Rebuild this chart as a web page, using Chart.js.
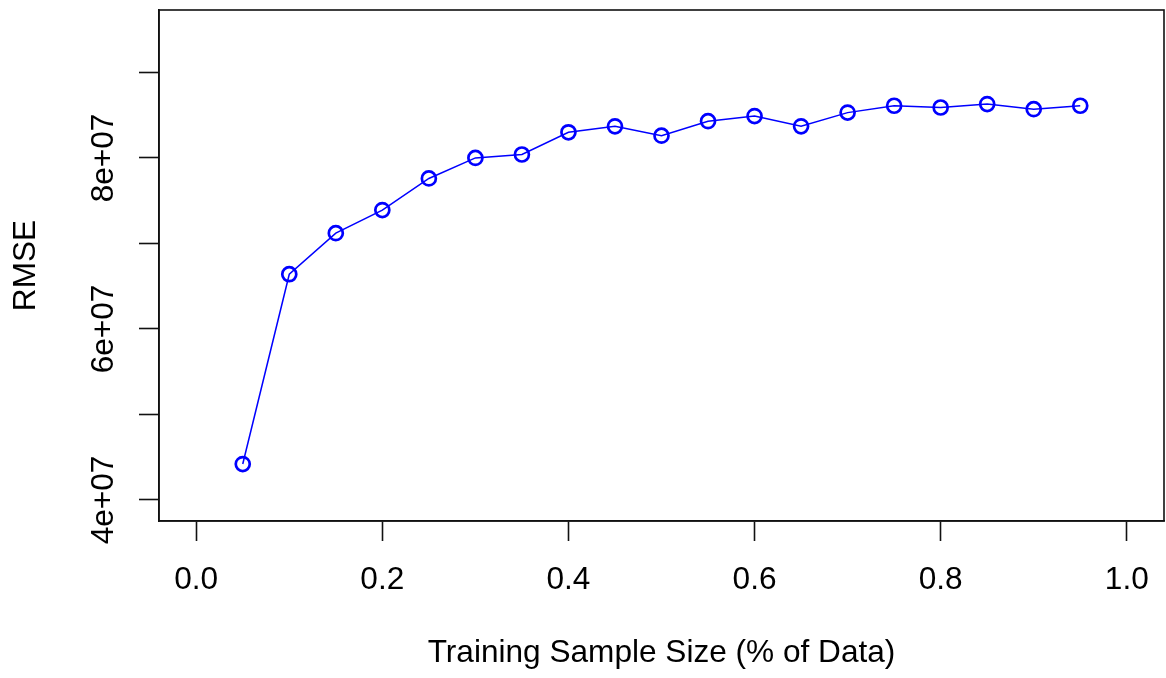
<!DOCTYPE html>
<html>
<head>
<meta charset="utf-8">
<script src="https://cdn.jsdelivr.net/npm/chart.js@4.4.0/dist/chart.umd.min.js"></script>
<style>
  html, body { margin: 0; padding: 0; background: #ffffff; }
  #chart { display: block; }
</style>
</head>
<body>
<canvas id="chart" width="1166" height="678"></canvas>
<script>
// ====== Data ======
const sampleSizes = [0.05, 0.10, 0.15, 0.20, 0.25, 0.30, 0.35, 0.40, 0.45, 0.50,
                     0.55, 0.60, 0.65, 0.70, 0.75, 0.80, 0.85, 0.90, 0.95];
const rmseValues = [4.42e7, 6.64e7, 7.12e7, 7.39e7, 7.76e7, 8.00e7, 8.04e7, 8.30e7, 8.37e7, 8.26e7,
                    8.43e7, 8.49e7, 8.37e7, 8.53e7, 8.61e7, 8.59e7, 8.63e7, 8.57e7, 8.61e7];
const xTicks = [0, 0.2, 0.4, 0.6, 0.8, 1.0];
const xTickLabels = ['0.0', '0.2', '0.4', '0.6', '0.8', '1.0'];
const yTicks = [4e7, 5e7, 6e7, 7e7, 8e7, 9e7];
const yTickLabels = ['4e+07', '', '6e+07', '', '8e+07', ''];

const FONT = '"Liberation Sans", Arial, Helvetica, sans-serif';
const FONT_SIZE = 31.6;

// Box around the plot region, like R's box()
const boxPlugin = {
  id: 'rBox',
  afterDraw(chart) {
    const { ctx, chartArea } = chart;
    ctx.save();
    ctx.strokeStyle = '#111';
    ctx.lineWidth = 1.6;
    ctx.strokeRect(chartArea.left, chartArea.top,
                   chartArea.right - chartArea.left, chartArea.bottom - chartArea.top);
    ctx.restore();
  }
};

// Rotated y tick labels (R default las = 0)
const yLabelPlugin = {
  id: 'rYLabels',
  afterDraw(chart) {
    const { ctx } = chart;
    const yScale = chart.scales.y;
    ctx.save();
    ctx.font = FONT_SIZE + 'px ' + FONT;
    ctx.fillStyle = '#000';
    ctx.textAlign = 'center';
    ctx.textBaseline = 'alphabetic';
    yTicks.forEach((v, i) => {
      if (!yTickLabels[i]) return;
      const py = yScale.getPixelForValue(v);
      ctx.save();
      ctx.translate(113, py);
      ctx.rotate(-Math.PI / 2);
      ctx.fillText(yTickLabels[i], 0, 0);
      ctx.restore();
    });
    ctx.restore();
  }
};

const points = sampleSizes.map((x, i) => ({ x: x, y: rmseValues[i] }));

const ctx = document.getElementById('chart').getContext('2d');
new Chart(ctx, {
  type: 'line',
  data: {
    datasets: [{
      data: points,
      borderColor: '#0000ff',
      borderWidth: 1.5,
      pointStyle: 'circle',
      pointRadius: 7,
      pointBorderWidth: 2.7,
      pointBorderColor: '#0000ff',
      pointBackgroundColor: 'rgba(0,0,0,0)',
      tension: 0,
      fill: false
    }]
  },
  options: {
    responsive: false,
    animation: false,
    layout: { autoPadding: false, padding: { top: 10, right: 2, left: 0, bottom: 0 } },
    plugins: {
      legend: { display: false },
      tooltip: { enabled: false }
    },
    scales: {
      x: {
        type: 'linear',
        min: -0.04,
        max: 1.04,
        afterFit(scale) {
          scale.height = 157;
          scale.paddingLeft = 0;
          scale.paddingRight = 0;
        },
        afterBuildTicks(scale) { scale.ticks = xTicks.map(v => ({ value: v })); },
        grid: {
          drawOnChartArea: false,
          drawTicks: true,
          tickLength: 20,
          tickWidth: 1.6,
          tickColor: '#111'
        },
        border: { display: true, color: '#111', width: 1.6 },
        ticks: {
          autoSkip: false,
          maxRotation: 0,
          padding: 20,
          color: '#000',
          font: { family: FONT, size: FONT_SIZE },
          callback: function(value) {
            const i = xTicks.indexOf(value);
            return i >= 0 ? xTickLabels[i] : '';
          }
        },
        title: {
          display: true,
          text: 'Training Sample Size (% of Data)',
          color: '#000',
          font: { family: FONT, size: FONT_SIZE },
          padding: { top: 0, bottom: 6 }
        }
      },
      y: {
        type: 'linear',
        min: 3.754e7,
        max: 9.73e7,
        afterFit(scale) { scale.width = 159; },
        afterBuildTicks(scale) { scale.ticks = yTicks.map(v => ({ value: v })); },
        grid: {
          drawOnChartArea: false,
          drawTicks: true,
          tickLength: 20,
          tickWidth: 1.6,
          tickColor: '#111'
        },
        border: { display: true, color: '#111', width: 1.6 },
        ticks: {
          display: false,
          autoSkip: false
        },
        title: {
          display: true,
          text: 'RMSE',
          color: '#000',
          font: { family: FONT, size: FONT_SIZE },
          padding: { top: 7, bottom: 0 }
        }
      }
    }
  },
  plugins: [boxPlugin, yLabelPlugin]
});
</script>
</body>
</html>
